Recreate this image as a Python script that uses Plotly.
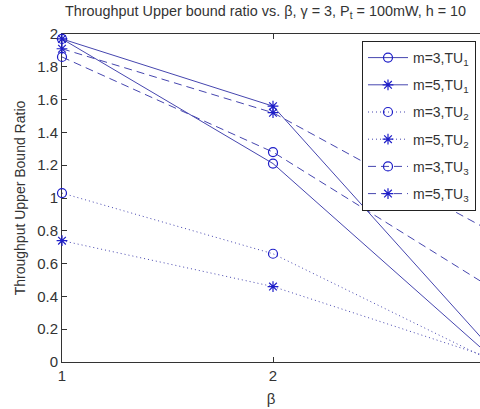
import plotly.graph_objects as go

beta = [1, 2, 3]
m3_tu1 = [1.97, 1.21, 0.07]
m5_tu1 = [1.97, 1.56, 0.13]
m3_tu2 = [1.03, 0.66, 0.03]
m5_tu2 = [0.74, 0.46, 0.04]
m3_tu3 = [1.86, 1.28, 0.48]
m5_tu3 = [1.91, 1.52, 0.82]

names = ["m=3,TU<sub>1</sub>", "m=5,TU<sub>1</sub>", "m=3,TU<sub>2</sub>",
         "m=5,TU<sub>2</sub>", "m=3,TU<sub>3</sub>", "m=5,TU<sub>3</sub>"]
series = [m3_tu1, m5_tu1, m3_tu2, m5_tu2, m3_tu3, m5_tu3]
symbols = ["circle-open", "asterisk-open"] * 3
dashes = ["solid", "solid", "1px,3px", "1px,3px", "8px,5px", "8px,5px"]

LINE = "rgb(70,70,175)"
MARK = "rgb(30,30,200)"

fig = go.Figure()
for i, (nm, ys) in enumerate(zip(names, series)):
    fig.add_trace(go.Scatter(
        x=beta, y=ys, name=nm, mode="lines+markers",
        legendgroup=f"g{i}",
        line=dict(color=LINE, width=1, dash=dashes[i]),
        marker=dict(symbol=symbols[i], size=9, color=MARK,
                    line=dict(color=MARK, width=1.2)),
        cliponaxis=False,
    ))

W, H = 480, 409
L, R, T, B = 62, 0, 34, 47
pw = W - L - R
ph = H - T - B

fig.update_layout(
    width=W, height=H,
    margin=dict(l=L, r=R, t=T, b=B),
    paper_bgcolor="white", plot_bgcolor="white",
    font=dict(family="Liberation Sans, Arial, sans-serif", size=14, color="#222"),
    showlegend=True,
    legend=dict(
        x=(362 - L) / pw, y=(H - B - 41) / ph, xanchor="left", yanchor="top",
        bgcolor="white", bordercolor="#222", borderwidth=1,
        font=dict(size=14, color="#333"),
        traceorder="grouped", tracegroupgap=6, itemwidth=40,
    ),
    xaxis=dict(
        range=[1, 1 + (W - L) / 211.0], tickvals=[1, 2, 3], ticktext=["1", "2", "3"],
        ticks="inside", ticklen=5, tickcolor="#333",
        showline=True, linecolor="#333", linewidth=1, mirror="ticks",
        showgrid=False, zeroline=False, layer="below traces",
        title=dict(text="β", standoff=10, font=dict(size=15, color="#333")),
        tickfont=dict(size=15, color="#333"),
    ),
    yaxis=dict(
        range=[0, 2], tickvals=[0, 0.2, 0.4, 0.6, 0.8, 1, 1.2, 1.4, 1.6, 1.8, 2],
        ticktext=["0", "0.2", "0.4", "0.6", "0.8", "1", "1.2", "1.4", "1.6", "1.8", "2"],
        ticks="inside", ticklen=5, tickcolor="#333",
        showline=True, linecolor="#333", linewidth=1,
        showgrid=False, zeroline=False, layer="below traces",
        title=dict(text="Throughput Upper Bound Ratio", standoff=8,
                   font=dict(size=14, color="#333")),
        tickfont=dict(size=15, color="#333"),
    ),
    annotations=[dict(
        text="Throughput Upper bound ratio vs. β, γ = 3, P<sub>t</sub> = 100mW, h = 10",
        xref="paper", yref="paper", x=(63 - L) / pw, y=(H - B - 12) / ph,
        xanchor="left", yanchor="middle", showarrow=False,
        font=dict(size=14.4, color="#333"),
    )],
)

fig.write_html("out.html")
